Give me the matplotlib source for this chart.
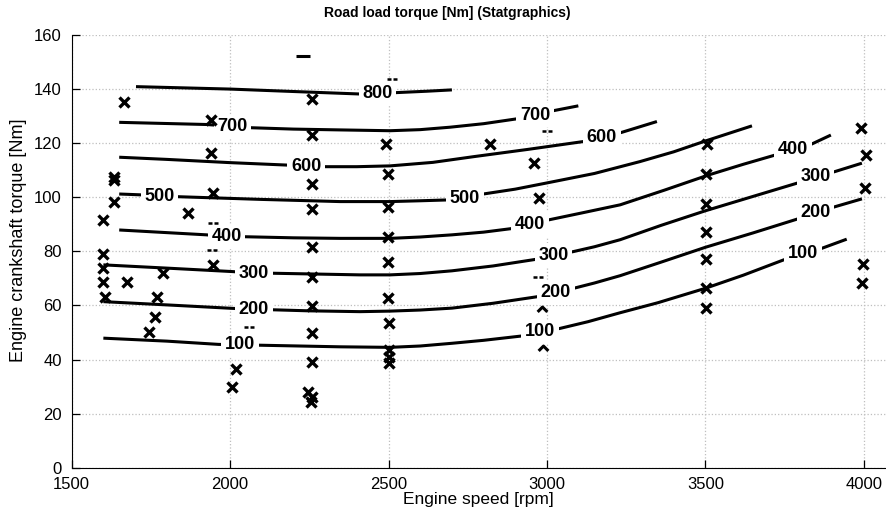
import matplotlib
matplotlib.use("Agg")
import matplotlib.pyplot as plt
from matplotlib import font_manager
from matplotlib.path import Path

# contour lines: engine speed [rpm] -> crankshaft torque [Nm]
levels = [100, 200, 300, 400, 500, 600, 700, 800]
line_speed = {
    100: [1600, 1800, 1963, 2031, 2089, 2347, 2505, 2600, 2700, 2800, 2920, 2978, 3041, 3130,
          3231, 3350, 3499, 3620, 3746, 3804, 3867, 3946],
    200: [1600, 1800, 2010, 2073, 2250, 2410, 2505, 2600, 2700, 2830, 2968, 3026, 3083, 3150,
          3231, 3360, 3500, 3650, 3789, 3846, 3909, 3994],
    300: [1600, 1800, 2010, 2073, 2136, 2410, 2505, 2600, 2700, 2830, 2968, 3020, 3083, 3150,
          3231, 3360, 3500, 3650, 3789, 3846, 3909, 3994],
    400: [1650, 1926, 1989, 2047, 2200, 2347, 2505, 2600, 2700, 2800, 2894, 2947, 3004, 3110,
          3231, 3370, 3509, 3620, 3720, 3778, 3836, 3896],
    500: [1650, 1716, 1777, 1837, 2100, 2347, 2505, 2600, 2684, 2741, 2799, 2900, 3000, 3150,
          3294, 3400, 3500, 3647],
    600: [1650, 1800, 2000, 2179, 2240, 2305, 2400, 2505, 2640, 2768, 2940, 3115, 3173, 3236, 3347],
    700: [1650, 1926, 2008, 2068, 2200, 2347, 2505, 2600, 2694, 2800, 2905, 2962, 3020, 3099],
    800: [1703, 2000, 2200, 2405, 2465, 2526, 2620, 2700],
}
line_torque = {
    100: [47.9, 46.8, 45.6, 45.4, 45.3, 44.7, 44.5, 45.0, 46.0, 47.1, 48.7, 50.1, 51.5, 54.0,
          57.3, 61.0, 66.3, 71.2, 76.8, 79.0, 81.1, 84.5],
    200: [61.4, 60.2, 58.9, 58.6, 58.0, 57.7, 57.9, 58.3, 59.0, 60.8, 63.2, 64.7, 66.3, 68.3,
          71.0, 76.0, 81.5, 86.8, 91.9, 94.1, 96.5, 99.4],
    300: [75.0, 73.8, 72.5, 71.9, 71.9, 71.3, 71.3, 71.8, 72.8, 74.6, 77.1, 78.5, 79.9, 81.7,
          84.3, 89.6, 95.0, 100.3, 105.2, 107.4, 109.5, 112.6],
    400: [87.9, 86.1, 85.4, 85.4, 85.0, 84.8, 84.8, 85.3, 86.1, 87.1, 88.5, 89.9, 91.6, 94.2,
          97.2, 102.6, 108.2, 112.2, 115.6, 117.6, 119.7, 123.0],
    500: [101.2, 100.9, 100.3, 100.2, 99.2, 98.4, 98.4, 98.7, 99.0, 99.8, 101.2, 103.0, 105.3,
          108.8, 113.2, 116.8, 120.8, 126.4],
    600: [114.8, 114.0, 112.8, 111.9, 111.4, 111.3, 111.3, 111.6, 112.9, 115.0, 117.7, 120.6,
          122.2, 124.0, 128.0],
    700: [127.7, 126.9, 126.2, 125.7, 125.2, 124.9, 124.6, 125.0, 125.9, 127.2, 129.0, 130.4,
          132.0, 133.8],
    800: [140.9, 140.0, 139.1, 138.2, 138.2, 138.7, 139.2, 139.7],
}

# inline contour labels
label_level = [800, 700, 700, 600, 600, 500, 500, 400, 400, 400,
               300, 300, 300, 200, 200, 200, 100, 100, 100]
label_speed = [2465, 2008, 2962, 2240, 3173, 1777, 2741, 1989, 2947, 3776,
               2075, 3020, 3848, 2075, 3028, 3848, 2031, 2978, 3808]
label_torque = [138.2, 126.0, 130.4, 111.4, 122.2, 100.3, 99.7, 85.4, 89.9, 117.8,
                71.9, 78.5, 107.5, 58.6, 64.8, 94.2, 45.4, 50.2, 79.2]

# measured operating points
pt_speed = [1600, 1600, 1600, 1600, 1605, 1634, 1634, 1634, 1665, 1674,
            1787, 1770, 1763, 1745, 1868, 1939, 1939, 1945, 1947, 2019, 2005,
            2258, 2258, 2258, 2258, 2258, 2258, 2258, 2258, 2258, 2247, 2258, 2255,
            2492, 2499, 2499, 2499, 2499, 2499, 2501, 2501, 2503, 2503,
            2820, 2960, 2975,
            3505, 3502, 3502, 3502, 3502, 3502, 3502,
            3991, 4007, 4004, 3996, 3993]
pt_torque = [91.6, 79.2, 73.7, 68.6, 63.2, 107.6, 106.4, 98.4, 135.4, 68.6,
             72.1, 63.2, 55.8, 50.3, 94.3, 128.6, 116.5, 101.5, 74.8, 36.4, 30.0,
             136.2, 123.0, 104.9, 95.6, 81.7, 70.4, 59.8, 49.7, 39.2, 28.1, 26.3, 24.4,
             119.7, 108.6, 96.5, 85.4, 76.2, 62.6, 53.6, 43.5, 41.0, 38.6,
             119.7, 112.6, 99.6,
             119.7, 108.6, 97.4, 87.1, 77.0, 66.3, 58.9,
             125.5, 115.6, 103.3, 75.2, 68.2]

# leftover bits of points hidden behind labels
dots_speed = [1945, 1943, 2060, 2511, 3000, 2972]
dots_torque = [90.5, 80.5, 52.0, 143.8, 124.6, 70.5]
caret_speed = [2984, 2986]
caret_torque = [58.6, 44.2]
dash_speed = [2207, 2251]
dash_torque = [152.3, 152.3]

names = {f.name for f in font_manager.fontManager.ttflist}
base = "Liberation Sans" if "Liberation Sans" in names else "DejaVu Sans"
plt.rcParams['font.family'] = [base, 'DejaVu Sans']

fig = plt.figure(figsize=(8.86, 5.16), dpi=100)
ax = fig.add_axes([0.0809, 0.0936, 0.9191, 0.8386])

for lev in levels:
    ax.plot(line_speed[lev], line_torque[lev], color="black", lw=2.2,
            solid_capstyle="butt", solid_joinstyle="round", zorder=2)
ax.plot(dash_speed, dash_torque, color="black", lw=2.2, solid_capstyle="butt", zorder=2)

for lev, x, y in zip(label_level, label_speed, label_torque):
    ax.text(x, y, str(lev), ha="center", va="center", fontsize=13, fontweight="bold",
            zorder=4, bbox=dict(boxstyle="square,pad=0.2", fc="white", ec="none"))

ax.plot(pt_speed, pt_torque, ls="none", marker="x", ms=7.5, mew=2.4,
        color="black", zorder=5)

two_dash = Path([(-1, 0), (-0.3, 0), (0.3, 0), (1, 0)],
                [Path.MOVETO, Path.LINETO, Path.MOVETO, Path.LINETO])
caret = Path([(-1, -0.5), (0, 0.5), (1, -0.5)], [Path.MOVETO, Path.LINETO, Path.LINETO])
ax.plot(dots_speed, dots_torque, ls="none", marker=two_dash, ms=7, mew=1.8,
        mfc="none", color="black", zorder=5)
ax.plot(caret_speed, caret_torque, ls="none", marker=caret, ms=7, mew=2.2,
        mfc="none", color="black", zorder=5)

ax.set_xlim(1500, 4070)
ax.set_ylim(0, 160)
ax.set_xticks([1500, 2000, 2500, 3000, 3500, 4000])
ax.set_yticks(range(0, 161, 20))
ax.grid(True, linestyle=":", color="0.75", linewidth=0.9)
ax.set_axisbelow(True)
ax.spines["top"].set_visible(False)
ax.spines["right"].set_visible(False)
ax.tick_params(direction="in", length=6, width=0.9, labelsize=12)
ax.tick_params(axis="x", pad=7)
ax.tick_params(axis="y", pad=7)

ax.set_xlabel("Engine speed [rpm]", fontsize=12.5, labelpad=0)
fig.text(0.021, 0.535, "Engine crankshaft torque [Nm]", rotation=90, fontsize=13,
         ha="center", va="center")
fig.text(0.505, 0.975, "Road load torque [Nm] (Statgraphics)", ha="center", va="center",
         fontsize=10, fontweight="bold")

fig.savefig("out.png", dpi=100)
